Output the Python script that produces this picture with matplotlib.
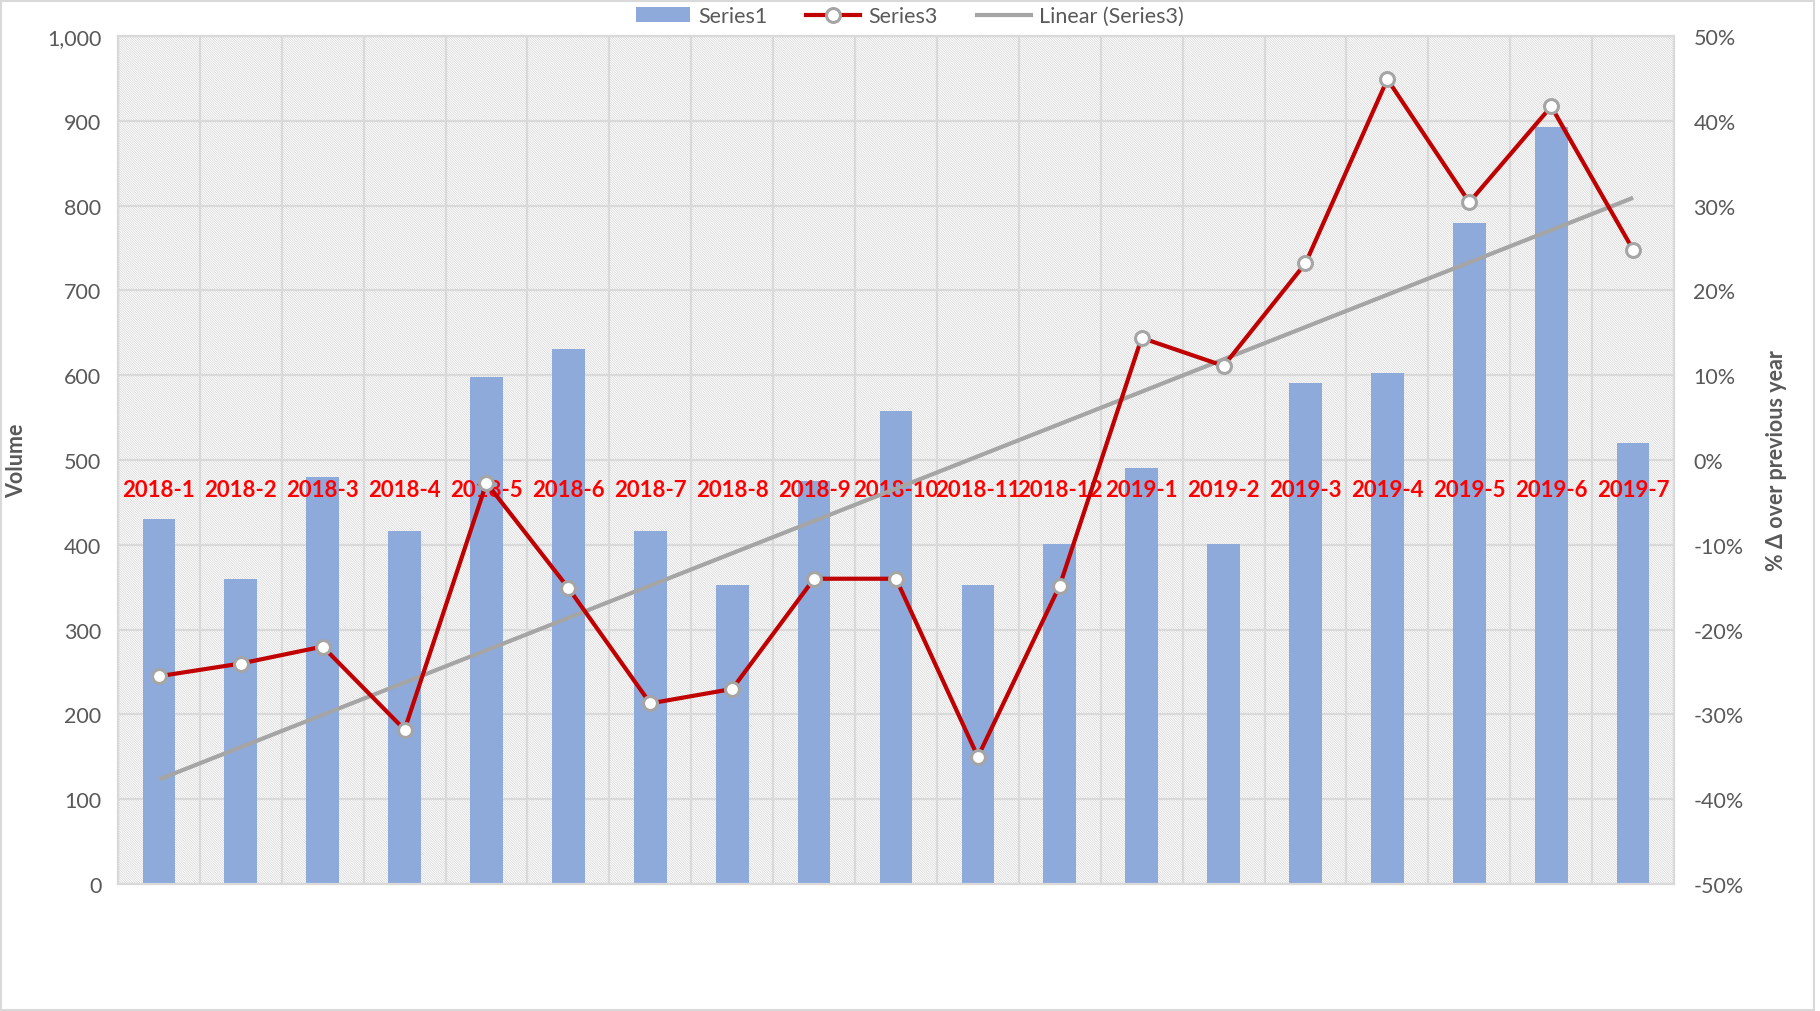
import matplotlib
matplotlib.use("Agg")
import matplotlib.pyplot as plt
import numpy as np
from matplotlib.patches import Rectangle, Patch
from matplotlib.lines import Line2D
from matplotlib.ticker import FuncFormatter, MultipleLocator, FixedLocator

plt.rcParams['font.family'] = ['Lato', 'DejaVu Sans']
plt.rcParams['hatch.linewidth'] = 0.45
plt.rcParams['hatch.color'] = '#d0d0d0'

categories = ['2018-1', '2018-2', '2018-3', '2018-4', '2018-5', '2018-6', '2018-7',
              '2018-8', '2018-9', '2018-10', '2018-11', '2018-12', '2019-1', '2019-2',
              '2019-3', '2019-4', '2019-5', '2019-6', '2019-7']
series1 = [430, 360, 480, 416, 598, 631, 416, 353, 475, 558, 353, 401, 491, 401,
           591, 603, 780, 893, 520]
series3 = [-25.5, -24.0, -22.0, -31.8, -2.7, -15.1, -28.7, -27.0, -14.0, -14.0,
           -35.0, -14.8, 14.4, 11.1, 23.2, 44.9, 30.4, 41.7, 24.8]
label_level = 465

x = np.arange(len(categories))
y3 = np.array(series3) / 100.0
coef = np.polyfit(x, y3, 1)
trend = np.polyval(coef, x)

fig = plt.figure(figsize=(18.2, 10.12), dpi=100)
ax = fig.add_axes([0.0648, 0.1255, 0.855, 0.8379])
ax2 = ax.twinx()

grid_c = '#d9d9d9'
txt_c = '#595959'

ax.set_xlim(-0.5, len(categories) - 0.5)
ax.set_ylim(0, 1000)
ax2.set_ylim(-0.5, 0.5)

# hatched background
bg = Rectangle((0, 0), 1, 1, transform=ax.transAxes, facecolor='white',
               edgecolor='#d0d0d0', hatch='\\' * 14, linewidth=0, zorder=0)
ax.add_patch(bg)

ax.yaxis.set_major_locator(MultipleLocator(100))
ax.xaxis.set_major_locator(FixedLocator(np.arange(-0.5, len(categories), 1.0)))
ax.grid(True, which='major', axis='both', color=grid_c, linewidth=1.6, zorder=1)
ax.set_axisbelow(True)
ax.tick_params(axis='x', length=0, labelbottom=False)
ax.tick_params(axis='y', length=0, labelsize=15.5, labelcolor=txt_c, pad=12)
ax.yaxis.set_major_formatter(FuncFormatter(lambda v, p: f"{int(v):,}"))

ax.bar(x, series1, width=0.4, color='#8eaadb', zorder=2)

for i, c in enumerate(categories):
    ax.text(i, label_level, c, color='#ff0000', fontweight='bold', fontsize=16,
            ha='center', va='center', zorder=3)

for s in ax.spines.values():
    s.set_color(grid_c)
    s.set_linewidth(1.6)
for s in ax2.spines.values():
    s.set_visible(False)

ax2.plot(x, trend, color='#a5a5a5', linewidth=3.0, solid_capstyle='butt', zorder=4)
ax2.plot(x, y3, color='#c00000', linewidth=3.0, marker='o', markersize=10,
         markerfacecolor='white', markeredgecolor='#a5a5a5', markeredgewidth=2.2, zorder=5)
ax2.yaxis.set_major_locator(MultipleLocator(0.1))
ax2.yaxis.set_major_formatter(FuncFormatter(lambda v, p: f"{int(round(v*100))}%"))
ax2.tick_params(axis='y', length=0, labelsize=15.5, labelcolor=txt_c, pad=14)

ax.set_ylabel('Volume', fontsize=15.5, fontweight='bold', color=txt_c, labelpad=14)
ax2.set_ylabel('% Δ over previous year', fontsize=15.5, fontweight='bold', color=txt_c,
               labelpad=16)

handles = [Patch(facecolor='#8eaadb', edgecolor='none'),
           Line2D([], [], color='#c00000', linewidth=3.0, marker='o', markersize=10,
                  markerfacecolor='white', markeredgecolor='#a5a5a5', markeredgewidth=2.2),
           Line2D([], [], color='#a5a5a5', linewidth=3.0)]
fig.legend(handles, ['Series1', 'Series3', 'Linear (Series3)'], loc='center',
           bbox_to_anchor=(0.5, 0.983), ncol=3, frameon=False, fontsize=15.5,
           labelcolor=txt_c, handlelength=2.5, columnspacing=1.8, handletextpad=0.4)

fig.patches.append(Rectangle((0.0005, 0.0005), 0.996, 0.998, transform=fig.transFigure,
                             fill=False, edgecolor='#d9d9d9', linewidth=1.5))

fig.savefig('out.png', dpi=100)
